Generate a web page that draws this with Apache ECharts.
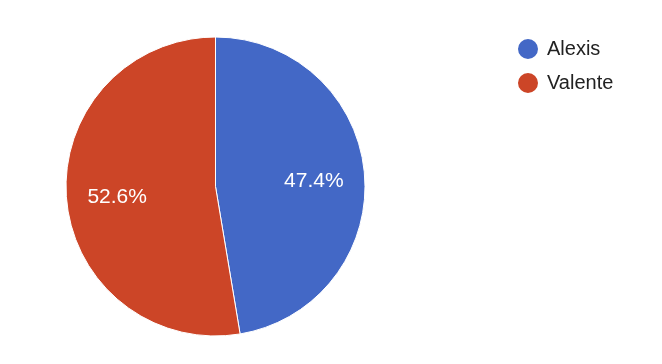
<!DOCTYPE html>
<html><head><meta charset="utf-8">
<script src="https://cdn.jsdelivr.net/npm/echarts@6/dist/echarts.min.js"></script>
<style>html,body{margin:0;padding:0;background:#fff}#c{width:662px;height:364px}</style>
</head><body><div id="c"></div>
<script>
const names = ['Alexis', 'Valente'];
const values = [9, 10];
const colors = ['#4368c6', '#cc4527'];

const chart = echarts.init(document.getElementById('c'));
const font = 'Arial, "Liberation Sans", sans-serif';
const data = names.map((n, i) => ({ name: n, value: values[i], itemStyle: { color: colors[i] } }));
const R = 149.5;
chart.setOption({
  animation: false,
  legend: {
    orient: 'vertical', left: 516, top: 37, padding: 0, icon: 'circle', itemWidth: 22, itemHeight: 22, itemGap: 10,
    textStyle: { fontFamily: font, fontSize: 20, lineHeight: 22, color: '#222', padding: [0, 0, 0, 3] },
    data: names.map((n, i) => ({ name: n, itemStyle: { color: colors[i] } }))
  },
  series: [{
    type: 'pie', center: [215.5, 186.5], radius: [0, R], startAngle: 90, clockwise: true,
    itemStyle: { borderColor: '#fff', borderWidth: 1 },
    label: { show: false }, labelLine: { show: false }, emphasis: { disabled: true },
    data: data
  }, {
    type: 'pie', center: [215.5, 189.5], radius: [R * 0.28, R], startAngle: 90, clockwise: true,
    silent: true,
    itemStyle: { color: 'rgba(0,0,0,0)', borderWidth: 0 },
    label: { show: true, position: 'inside', fontFamily: font, fontSize: 21, color: '#fff',
      formatter: p => p.percent.toFixed(1) + '%' },
    labelLine: { show: false }, emphasis: { disabled: true },
    data: names.map((n, i) => ({ name: n, value: values[i], itemStyle: { color: 'rgba(0,0,0,0)' } }))
  }]
});
</script></body></html>
